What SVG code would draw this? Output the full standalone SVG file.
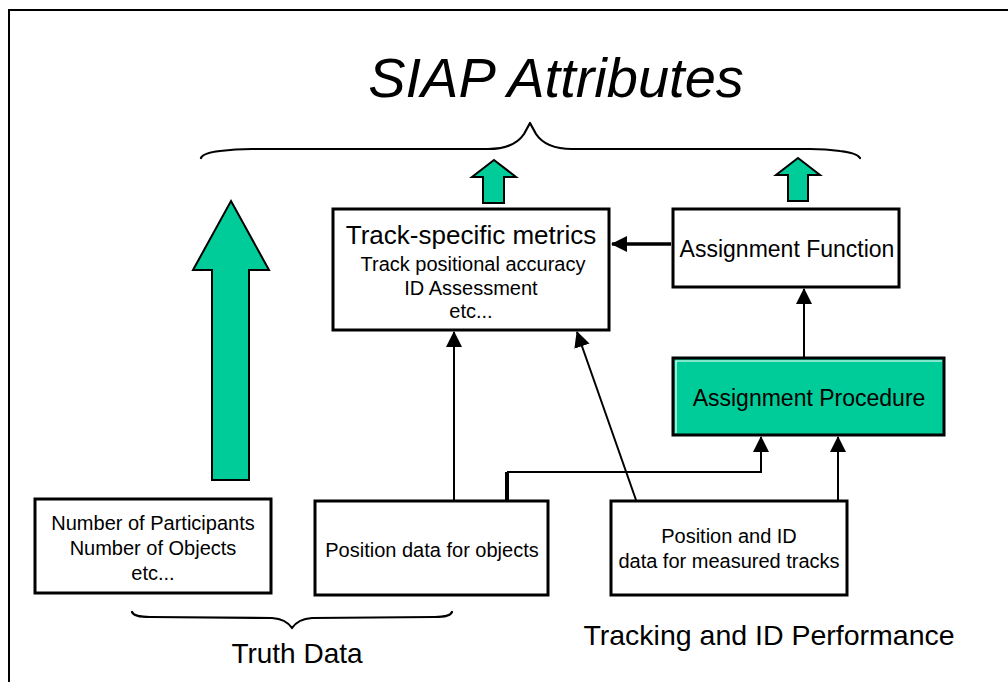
<svg xmlns="http://www.w3.org/2000/svg" width="1008" height="682" viewBox="0 0 1008 682">
<style>
text{font-family:"Liberation Sans",Arial,sans-serif;fill:#000}
.box{fill:#fff;stroke:#000;stroke-width:3}
.green{fill:#00CC99;stroke:#000;stroke-width:2}
.conn{fill:none;stroke:#000;stroke-width:2}
.brace{fill:none;stroke:#000;stroke-width:2.2;stroke-linecap:round;stroke-linejoin:round}
.t20{font-size:20px;text-anchor:middle}
.t23{font-size:23px;text-anchor:middle}
.t28{font-size:28px;text-anchor:middle}
</style>
<defs>
<marker id="ah" markerUnits="userSpaceOnUse" markerWidth="16" markerHeight="16" viewBox="0 0 16 16" refX="15" refY="8" orient="auto">
<path d="M0,0 L16,8 L0,16 Z" fill="#000"/>
</marker>
</defs>
<rect width="1008" height="682" fill="#fff"/>
<path d="M9,682 V10 H1008" fill="none" stroke="#000" stroke-width="2"/>

<text x="556" y="97" font-size="56" font-style="italic" text-anchor="middle">SIAP Attributes</text>

<g id="brace-top">
<path class="brace" d="M201,158 Q203,153 220,151 Q235,149 252,149 L488,149 Q514,149 524,134 L530,123 L536,134 Q546,149 572,149 L810,149 Q826,149 840,151 Q857,153 860,158"/>
</g>

<g id="arrow-mid"><polygon class="green" points="494,160 516,177 504,177 504,203 483,203 483,177 472,177"/></g>
<g id="arrow-right"><polygon class="green" points="798,158 820,175 808,175 808,201 788,201 788,175 776,175"/></g>
<g id="arrow-big"><polygon class="green" points="231,201 269,270 249,270 249,480 212,480 212,270 193,270"/></g>

<g id="track-metrics">
<rect class="box" x="333" y="209" width="276" height="121"/>
<text x="471" y="244" font-size="26" text-anchor="middle">Track-specific metrics</text>
<text class="t20" x="473" y="271">Track positional accuracy</text>
<text class="t20" x="471" y="295">ID Assessment</text>
<text class="t20" x="471" y="318">etc...</text>
</g>

<g id="assignment-function">
<rect class="box" x="673" y="209" width="226" height="78"/>
<text class="t23" x="787" y="257">Assignment Function</text>
</g>

<g id="assignment-procedure">
<rect x="673" y="358" width="271" height="77" fill="#00CC99" stroke="#000" stroke-width="3"/>
<path d="M676,433 V361 H942" fill="none" stroke="#fff" stroke-width="1.2"/>
<text class="t23" x="809" y="406">Assignment Procedure</text>
</g>

<g id="truth-counts">
<rect class="box" x="35" y="499" width="236" height="94"/>
<text class="t20" x="153" y="530">Number of Participants</text>
<text class="t20" x="153" y="555">Number of Objects</text>
<text class="t20" x="153" y="580">etc...</text>
</g>

<g id="position-objects">
<rect class="box" x="315" y="501" width="233" height="94"/>
<text class="t20" x="432" y="557">Position data for objects</text>
</g>

<g id="position-tracks">
<rect class="box" x="611" y="501" width="236" height="94"/>
<text class="t20" x="729" y="543">Position and ID</text>
<text class="t20" x="729" y="568">data for measured tracks</text>
</g>

<g id="connectors">
<line class="conn" x1="454" y1="500" x2="454" y2="332" marker-end="url(#ah)"/>
<line class="conn" x1="636" y1="500" x2="577" y2="332" marker-end="url(#ah)"/>
<line x1="507" y1="500" x2="507" y2="472" stroke="#000" stroke-width="4"/>
<path class="conn" d="M507,472 H761 V437" marker-end="url(#ah)"/>
<line class="conn" x1="838" y1="500" x2="838" y2="437" marker-end="url(#ah)"/>
<line class="conn" x1="804" y1="358" x2="804" y2="289" marker-end="url(#ah)"/>
<line x1="671" y1="244" x2="612" y2="244" stroke="#000" stroke-width="3.5" marker-end="url(#ah)"/>
</g>

<g id="brace-bottom">
<path class="brace" d="M132,612 Q134,617 150,617 L272,618 Q286,619 292,628 Q298,619 312,618 L435,617 Q450,617 452,612"/>
</g>

<text class="t28" x="297" y="663">Truth Data</text>
<text x="769" y="645" font-size="28.5" text-anchor="middle">Tracking and ID Performance</text>
</svg>
